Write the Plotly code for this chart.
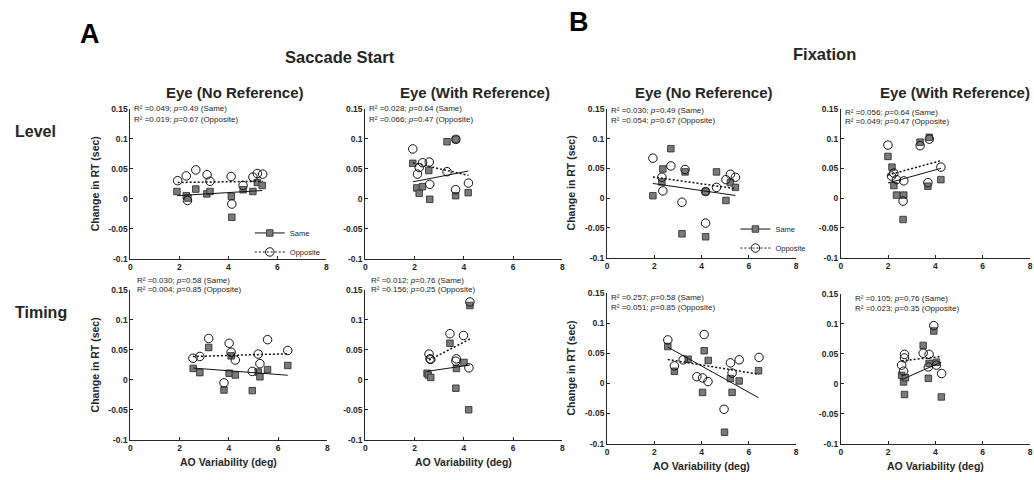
import plotly.graph_objects as go

# ---------------- data ----------------
TICK_X = [0, 2, 4, 6, 8]
TICK_X_TEXT = ["0", "2", "4", "6", "8"]
TICK_Y = [0.15, 0.1, 0.05, 0, -0.05, -0.1]
TICK_Y_TEXT = ["0.15", "0.1", "0.05", "0", "-0.05", "-0.1"]

# A: Saccade Start
A_lvl_noref_same_x = [1.90, 2.28, 2.35, 2.67, 3.12, 3.25, 4.12, 4.14, 4.60, 5.00, 5.18, 5.38]
A_lvl_noref_same_y = [0.012, 0.005, 0.001, 0.016, 0.008, 0.012, 0.004, -0.031, 0.015, 0.012, 0.027, 0.022]
A_lvl_noref_opp_x = [1.93, 2.28, 2.33, 2.67, 3.13, 3.25, 4.11, 4.14, 4.60, 5.00, 5.18, 5.40]
A_lvl_noref_opp_y = [0.030, 0.038, -0.003, 0.048, 0.040, 0.029, 0.037, -0.009, 0.022, 0.036, 0.042, 0.041]

A_lvl_ref_same_x = [1.93, 2.09, 2.19, 2.32, 2.58, 2.62, 3.32, 3.68, 3.67, 4.18]
A_lvl_ref_same_y = [0.059, 0.018, 0.009, 0.020, 0.047, -0.001, 0.095, 0.099, 0.005, 0.010]
A_lvl_ref_opp_x = [1.93, 2.12, 2.19, 2.33, 2.60, 2.62, 3.32, 3.68, 3.67, 4.19]
A_lvl_ref_opp_y = [0.083, 0.041, 0.052, 0.060, 0.061, 0.024, 0.045, 0.099, 0.015, 0.026]

A_tim_noref_same_x = [2.55, 2.82, 3.18, 3.80, 4.01, 4.09, 4.26, 4.95, 5.19, 5.26, 5.57, 6.39]
A_tim_noref_same_y = [0.019, 0.012, 0.054, -0.017, 0.011, 0.040, 0.008, -0.018, 0.013, 0.005, 0.017, 0.024]
A_tim_noref_opp_x = [2.54, 2.82, 3.18, 3.80, 4.01, 4.09, 4.26, 4.95, 5.19, 5.26, 5.57, 6.39]
A_tim_noref_opp_y = [0.036, 0.039, 0.069, -0.005, 0.061, 0.046, 0.033, 0.014, 0.043, 0.027, 0.067, 0.049]

A_tim_ref_same_x = [2.51, 2.56, 2.66, 3.44, 3.68, 3.70, 4.01, 4.20, 4.25]
A_tim_ref_same_y = [0.011, 0.008, 0.004, 0.061, -0.014, 0.019, 0.029, -0.050, 0.124]
A_tim_ref_opp_x = [2.59, 2.63, 2.66, 3.44, 3.68, 3.70, 3.99, 4.21, 4.25]
A_tim_ref_opp_y = [0.043, 0.035, 0.034, 0.077, 0.031, 0.035, 0.074, 0.020, 0.130]

# B: Fixation
B_lvl_noref_same_x = [1.94, 2.32, 2.36, 2.70, 3.17, 3.30, 4.17, 4.17, 4.63, 5.03, 5.22, 5.43]
B_lvl_noref_same_y = [0.004, 0.027, 0.049, 0.083, -0.060, 0.044, 0.011, -0.065, 0.044, -0.004, 0.026, 0.018]
B_lvl_noref_opp_x = [1.94, 2.32, 2.36, 2.70, 3.17, 3.30, 4.17, 4.17, 4.63, 5.03, 5.22, 5.43]
B_lvl_noref_opp_y = [0.067, 0.035, 0.012, 0.054, -0.007, 0.048, 0.011, -0.042, 0.018, 0.031, 0.040, 0.035]

B_lvl_ref_same_x = [1.99, 2.16, 2.24, 2.35, 2.66, 2.63, 3.35, 3.74, 3.68, 4.23]
B_lvl_ref_same_y = [0.070, 0.052, 0.021, 0.005, 0.005, -0.036, 0.094, 0.102, 0.020, 0.031]
B_lvl_ref_opp_x = [1.99, 2.14, 2.24, 2.35, 2.63, 2.66, 3.35, 3.74, 3.68, 4.23]
B_lvl_ref_opp_y = [0.089, 0.037, 0.042, 0.031, -0.005, 0.029, 0.088, 0.099, 0.026, 0.052]

B_tim_noref_same_x = [2.57, 2.85, 3.43, 4.04, 4.11, 4.28, 4.97, 5.22, 5.29, 5.59, 6.41]
B_tim_noref_same_y = [0.061, 0.020, 0.040, -0.015, 0.054, 0.038, -0.081, 0.008, -0.015, 0.004, 0.021]
B_tim_noref_opp_x = [2.57, 2.85, 3.22, 3.80, 4.04, 4.11, 4.27, 4.95, 5.22, 5.29, 5.59, 6.43]
B_tim_noref_opp_y = [0.072, 0.029, 0.039, 0.011, 0.009, 0.081, 0.003, -0.043, 0.034, 0.017, 0.039, 0.043]

B_tim_ref_same_x = [2.57, 2.65, 2.69, 2.73, 3.48, 3.70, 3.73, 3.93, 4.04, 4.25]
B_tim_ref_same_y = [0.014, 0.003, -0.018, 0.010, 0.064, 0.009, 0.034, 0.088, 0.036, -0.022]
B_tim_ref_opp_x = [2.57, 2.65, 2.69, 2.69, 3.48, 3.70, 3.73, 3.93, 4.04, 4.26]
B_tim_ref_opp_y = [0.031, 0.021, 0.049, 0.043, 0.051, 0.028, 0.049, 0.097, 0.031, 0.017]

# regression lines (slope, intercept)
FIT_SAME = [(0.00247, 0.0003), (0.0080, 0.0126), (-0.003125, 0.0276), (0.0061, -0.0012),
            (-0.00579, 0.0358), (0.0110, 0.0034), (-0.02185, 0.1162), (0.01743, -0.0379)]
FIT_OPP = [(0.00058, 0.0259), (-0.00933, 0.078), (0.00117, 0.036), (0.0213, -0.0223),
           (-0.00564, 0.0465), (0.0108, 0.0172), (-0.00635, 0.0559), (0.00417, 0.0277)]

# statistics text
R2_SAME = ["0.049", "0.028", "0.030", "0.012", "0.030", "0.056", "0.257", "0.105"]
P_SAME = ["0.49", "0.64", "0.58", "0.76", "0.49", "0.64", "0.58", "0.76"]
R2_OPP = ["0.019", "0.066", "0.004", "0.156", "0.054", "0.049", "0.051", "0.023"]
P_OPP = ["0.67", "0.47", "0.85", "0.25", "0.67", "0.47", "0.85", "0.35"]

SERIES_NAMES = ["Same", "Opposite"]
COL_TITLES = ["Eye (No Reference)", "Eye (With Reference)", "Eye (No Reference)", "Eye (With Reference)"]
ROW_TITLES = ["Level", "Timing"]
GROUP_TITLES = ["Saccade Start", "Fixation"]
PANEL_LETTERS = ["A", "B"]
Y_TITLE = "Change in RT (sec)"
X_TITLE = "AO Variability (deg)"

# ---------------- layout ----------------
W, H = 1034, 480
FONT = "Liberation Sans, Arial, Helvetica, sans-serif"
INK = "#262626"

data_sets = [
    (A_lvl_noref_same_x, A_lvl_noref_same_y, A_lvl_noref_opp_x, A_lvl_noref_opp_y),
    (A_lvl_ref_same_x, A_lvl_ref_same_y, A_lvl_ref_opp_x, A_lvl_ref_opp_y),
    (A_tim_noref_same_x, A_tim_noref_same_y, A_tim_noref_opp_x, A_tim_noref_opp_y),
    (A_tim_ref_same_x, A_tim_ref_same_y, A_tim_ref_opp_x, A_tim_ref_opp_y),
    (B_lvl_noref_same_x, B_lvl_noref_same_y, B_lvl_noref_opp_x, B_lvl_noref_opp_y),
    (B_lvl_ref_same_x, B_lvl_ref_same_y, B_lvl_ref_opp_x, B_lvl_ref_opp_y),
    (B_tim_noref_same_x, B_tim_noref_same_y, B_tim_noref_opp_x, B_tim_noref_opp_y),
    (B_tim_ref_same_x, B_tim_ref_same_y, B_tim_ref_opp_x, B_tim_ref_opp_y),
]

# axes boxes in pixels: left, right, top, bottom
boxes = [
    (129, 326, 106, 259), (365, 563, 106, 259),
    (129, 327, 291, 444), (365, 563, 291, 444),
    (608, 798, 106, 258), (843, 1033, 106, 258),
    (608, 798, 294, 448), (843, 1033, 295, 448),
]
# stats text: left x, line1 y, line2 y
stat_pos = [
    (131, 106, 117), (367, 106, 117), (134, 281, 291), (369, 281, 291),
    (610, 108, 118), (845, 110, 119), (610, 299, 309), (855, 300, 310),
]

same_marker = dict(symbol="square", size=6.5, color="#7a7a7a", line=dict(color=INK, width=0.8))
opp_marker = dict(symbol="circle-open", size=8.5, color="#111111", line=dict(width=1))
same_line = dict(color="#111111", width=1)
opp_line = dict(color="#111111", width=1.5, dash="2px,2px")

fig = go.Figure()
layout = dict(
    width=W, height=H, margin=dict(l=0, r=0, t=0, b=0),
    paper_bgcolor="white", plot_bgcolor="white",
    font=dict(family=FONT, color=INK), showlegend=True,
)
annotations = []


def px(x):
    return x / W


def py(y):
    return 1 - y / H


for i, (xs, ys, xo, yo) in enumerate(data_sets):
    n = "" if i == 0 else str(i + 1)
    xa, ya = "x" + n, "y" + n
    fig.add_trace(go.Scatter(x=xs, y=ys, mode="markers", marker=same_marker,
                             xaxis=xa, yaxis=ya, showlegend=False, name=SERIES_NAMES[0]))
    fig.add_trace(go.Scatter(x=xo, y=yo, mode="markers", marker=opp_marker,
                             xaxis=xa, yaxis=ya, showlegend=False, name=SERIES_NAMES[1]))
    for (xv, fit, st) in ((xs, FIT_SAME[i], same_line), (xo, FIT_OPP[i], opp_line)):
        xr = [min(xv), max(xv)]
        yr = [fit[1] + fit[0] * v for v in xr]
        fig.add_trace(go.Scatter(x=xr, y=yr, mode="lines", line=st,
                                 xaxis=xa, yaxis=ya, showlegend=False, hoverinfo="skip"))
    l, r, t, b = boxes[i]
    common = dict(showline=True, linecolor=INK, linewidth=1, ticks="inside", ticklen=3,
                  tickwidth=1, tickcolor=INK, showgrid=False, zeroline=False,
                  tickfont=dict(family=FONT, size=8.5, color=INK, weight="bold"))
    layout["xaxis" + n] = dict(domain=[px(l), px(r)], range=[0, 8], anchor=ya,
                               tickvals=TICK_X, ticktext=TICK_X_TEXT, **common)
    layout["yaxis" + n] = dict(domain=[py(b), py(t)], range=[-0.1, 0.15], anchor=xa,
                               tickvals=TICK_Y, ticktext=TICK_Y_TEXT, **common)
    sx, s1, s2 = stat_pos[i]
    for txt, yy in ((f"R² ={R2_SAME[i]}; <i>p</i>={P_SAME[i]} (Same)", s1),
                    (f"R² ={R2_OPP[i]}; <i>p</i>={P_OPP[i]} (Opposite)", s2)):
        annotations.append(dict(text=txt, xref="paper", yref="paper", x=px(sx), y=py(yy),
                                xanchor="left", yanchor="middle", showarrow=False,
                                font=dict(family=FONT, size=8, color=INK)))
    # axis titles
    if i in (0, 2, 4, 6):
        annotations.append(dict(text=f"<b>{Y_TITLE}</b>", xref="paper", yref="paper",
                                x=px(l - 36), y=py((t + b) / 2), textangle=-90,
                                xanchor="center", yanchor="middle", showarrow=False,
                                font=dict(family=FONT, size=10.5, color=INK)))
    if i in (2, 3, 6, 7):
        annotations.append(dict(text=f"<b>{X_TITLE}</b>", xref="paper", yref="paper",
                                x=px((l + r) / 2), y=py(b + 23), xanchor="center",
                                yanchor="middle", showarrow=False,
                                font=dict(family=FONT, size=10.5, color=INK)))

# legend-only traces
for lg, xa, ya in (("legend", "x", "y"), ("legend2", "x5", "y5")):
    fig.add_trace(go.Scatter(x=[None], y=[None], mode="lines+markers", name=SERIES_NAMES[0],
                             line=same_line, marker=same_marker, legend=lg, xaxis=xa, yaxis=ya))
    fig.add_trace(go.Scatter(x=[None], y=[None], mode="lines+markers", name=SERIES_NAMES[1],
                             line=dict(color="#111111", width=1, dash="2px,2px"), marker=opp_marker,
                             legend=lg, xaxis=xa, yaxis=ya))

leg_common = dict(xanchor="left", yanchor="top", bgcolor="rgba(0,0,0,0)", itemwidth=30,
                  tracegroupgap=0, font=dict(family=FONT, size=7.5, color=INK))
layout["legend"] = dict(x=px(249), y=py(218), **leg_common)
layout["legend2"] = dict(x=px(737), y=py(214), **leg_common)

# column / row / group titles
col_x = [234, 475, 705, 958]
for cx, ttl in zip(col_x, COL_TITLES):
    annotations.append(dict(text=f"<b>{ttl}</b>", xref="paper", yref="paper", x=px(cx), y=py(89),
                            xanchor="center", yanchor="middle", showarrow=False,
                            font=dict(family=FONT, size=15, color=INK)))
for ry, ttl in zip((129, 314), ROW_TITLES):
    annotations.append(dict(text=f"<b>{ttl}</b>", xref="paper", yref="paper", x=px(11), y=py(ry),
                            xanchor="left", yanchor="middle", showarrow=False,
                            font=dict(family=FONT, size=16, color=INK)))
for (gx, gy), ttl in zip(((340, 53), (826, 50)), GROUP_TITLES):
    annotations.append(dict(text=f"<b>{ttl}</b>", xref="paper", yref="paper", x=px(gx), y=py(gy),
                            xanchor="center", yanchor="middle", showarrow=False,
                            font=dict(family=FONT, size=16.5, color=INK)))
for (lx, ly), ttl in zip(((88, 30), (580, 17)), PANEL_LETTERS):
    annotations.append(dict(text=f"<b>{ttl}</b>", xref="paper", yref="paper", x=px(lx), y=py(ly),
                            xanchor="center", yanchor="middle", showarrow=False,
                            font=dict(family=FONT, size=27, color="#000000")))

layout["annotations"] = annotations
fig.update_layout(**layout)
fig.write_html("out.html")
